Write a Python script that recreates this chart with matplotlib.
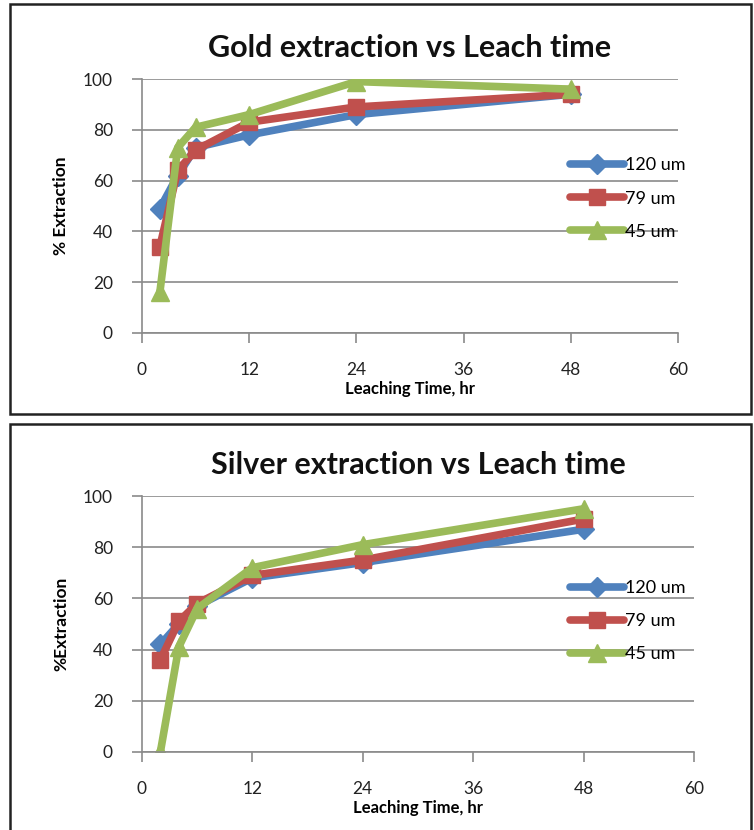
import matplotlib
matplotlib.use("Agg")
import matplotlib.pyplot as plt
from matplotlib.patches import Rectangle

# leach times (hr)
hours = [2, 4, 6, 12, 24, 48]
sizes = ["120 um", "79 um", "45 um"]

# gold extraction (%)
gold_120 = [49, 62, 73, 78, 86, 94]
gold_79 = [34, 64, 72, 83, 89, 94]
gold_45 = [16, 73, 81, 86, 99, 96]

# silver extraction (%)
silver_120 = [42, 50, 57, 68, 74, 87]
silver_79 = [36, 51, 58, 69, 75, 91]
silver_45 = [0, 41, 56, 72, 81, 95]

x_ticks = [0, 12, 24, 36, 48, 60]
y_ticks = [0, 20, 40, 60, 80, 100]

colors = ["#4F81BD", "#C0504D", "#9BBB59"]
markers = ["D", "s", "^"]
msizes = [10, 12, 13]

plt.rcParams["font.family"] = ["Lato", "DejaVu Sans"]

fig = plt.figure(figsize=(7.54, 8.30), dpi=100)


def draw_panel(ax, series, title, ylabel, leg_xy):
    for vals, lab, c, m, ms in zip(series, sizes, colors, markers, msizes):
        ax.plot(hours, vals, color=c, linewidth=5.5, marker=m, markersize=ms,
                markeredgecolor=c, label=lab, solid_joinstyle="round",
                solid_capstyle="round")
    ax.set_xlim(0, 60)
    ax.set_ylim(0, 100)
    ax.set_xticks(x_ticks)
    ax.set_yticks(y_ticks)
    ax.yaxis.grid(True, color="#8a8a8a", linewidth=1.2)
    ax.set_axisbelow(True)
    for s in ["top", "right"]:
        ax.spines[s].set_visible(False)
    for s in ["left", "bottom"]:
        ax.spines[s].set_color("#8a8a8a")
        ax.spines[s].set_linewidth(1.2)
    ax.tick_params(direction="out", length=7, color="#8a8a8a", width=1.2,
                   labelsize=12.5, labelcolor="#222222")
    ax.tick_params(axis="y", pad=14)
    ax.tick_params(axis="x", pad=14)
    ax.set_title(title, fontsize=22, fontweight="bold", pad=16, color="#111111")
    ax.set_xlabel("Leaching Time, hr", fontsize=12, fontweight="bold", labelpad=2)
    ax.set_ylabel(ylabel, fontsize=12.5, fontweight="bold", labelpad=10)
    ax.legend(loc="upper left", bbox_to_anchor=leg_xy, frameon=False,
              fontsize=13, handlelength=3.0, handletextpad=0.05,
              labelspacing=0.95, borderaxespad=0)


ax1 = fig.add_axes([0.1883, 0.5988, 0.711, 0.306])
draw_panel(ax1, [gold_120, gold_79, gold_45], "Gold extraction vs Leach time",
           "% Extraction", (0.785, 0.72))

ax2 = fig.add_axes([0.1883, 0.094, 0.732, 0.3084])
draw_panel(ax2, [silver_120, silver_79, silver_45], "Silver extraction vs Leach time",
           "%Extraction", (0.762, 0.70))

# panel borders
fig.add_artist(Rectangle((10 / 754, 1 - 414 / 830), 741 / 754, 410 / 830,
                         transform=fig.transFigure, fill=False,
                         edgecolor="#222222", linewidth=1.8))
fig.add_artist(Rectangle((10 / 754, 1 - 832 / 830), 741 / 754, 408 / 830,
                         transform=fig.transFigure, fill=False,
                         edgecolor="#222222", linewidth=1.8))

fig.savefig("out.png", dpi=100)
plt.close(fig)
